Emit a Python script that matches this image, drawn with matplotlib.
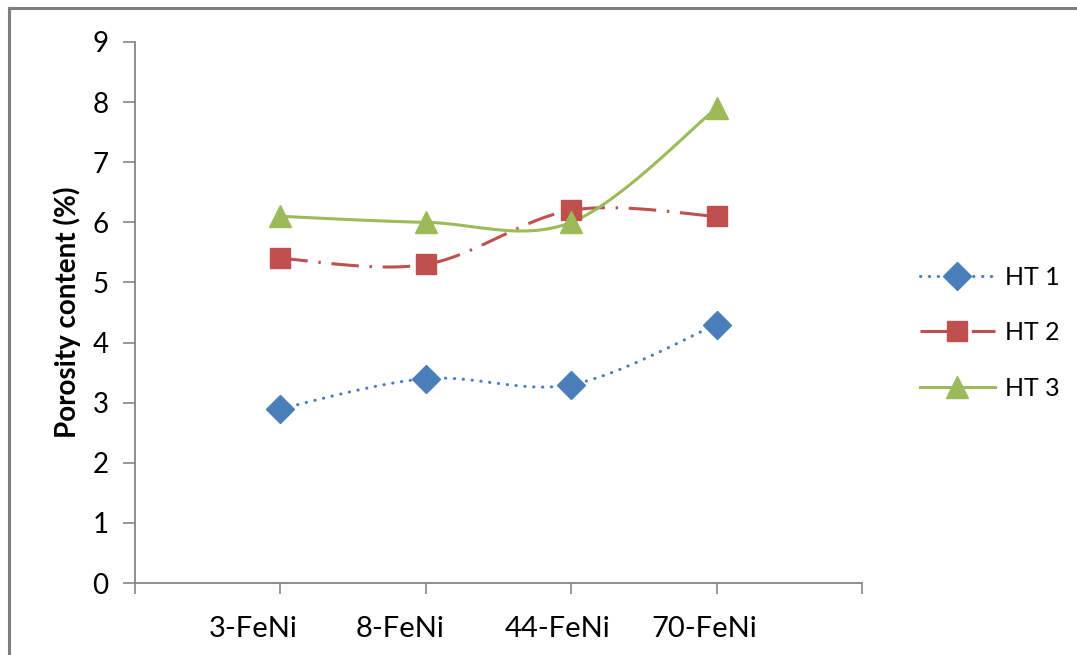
import numpy as np
import matplotlib.pyplot as plt
from matplotlib.lines import Line2D
from matplotlib.transforms import ScaledTranslation

plt.rcParams['font.family'] = ['Lato', 'DejaVu Sans']

# datos
categorias = ['3-FeNi', '8-FeNi', '44-FeNi', '70-FeNi']
ht1 = [2.9, 3.4, 3.3, 4.3]
ht2 = [5.4, 5.3, 6.2, 6.1]
ht3 = [6.1, 6.0, 6.0, 7.9]
nombres = ['HT 1', 'HT 2', 'HT 3']

gris = '#868686'


def suavizar(x, y, n=40):
    # curva tipo Excel (Catmull-Rom) entre los puntos
    x = np.asarray(x, float)
    y = np.asarray(y, float)
    px = np.concatenate([[x[0]], x, [x[-1]]])
    py = np.concatenate([[y[0]], y, [y[-1]]])
    xs, ys = [], []
    t = np.linspace(0, 1, n)
    for i in range(1, len(px) - 2):
        p0, p1, p2, p3 = px[i - 1], px[i], px[i + 1], px[i + 2]
        q0, q1, q2, q3 = py[i - 1], py[i], py[i + 1], py[i + 2]
        c1x, c1y = p1 + (p2 - p0) / 6, q1 + (q2 - q0) / 6
        c2x, c2y = p2 - (p3 - p1) / 6, q2 - (q3 - q1) / 6
        bx = (1 - t) ** 3 * p1 + 3 * (1 - t) ** 2 * t * c1x + 3 * (1 - t) * t ** 2 * c2x + t ** 3 * p2
        by = (1 - t) ** 3 * q1 + 3 * (1 - t) ** 2 * t * c1y + 3 * (1 - t) * t ** 2 * c2y + t ** 3 * q2
        xs.extend(bx)
        ys.extend(by)
    return np.array(xs), np.array(ys)


fig = plt.figure(figsize=(10.77, 6.55), dpi=100)
ax = fig.add_axes([0.1253, 0.1099, 0.8004 - 0.1253, 0.9359 - 0.1099])

x = np.arange(1, len(categorias) + 1)
series = [
    (ht1, '#4A7EBB', (0, (0.1, 2.8)), 'D', 14),
    (ht2, '#C0504D', (0, (9, 3.5, 0.8, 3.5)), 's', 14),
    (ht3, '#9BBB59', '-', '^', 16),
]

handles = []
for (datos, color, estilo, marca, tam), nombre in zip(series, nombres):
    sx, sy = suavizar(x, datos)
    cap = 'round' if marca == 'D' else 'butt'
    ax.plot(sx, sy, color=color, lw=2.2, linestyle=estilo, dash_capstyle=cap, zorder=2)
    ax.plot(x, datos, linestyle='none', marker=marca, markersize=tam, color=color, zorder=3)
    handles.append(Line2D([], [], color=color, lw=2.2, linestyle=estilo, dash_capstyle=cap,
                          marker=marca, markersize=tam))

ax.set_xlim(0, 5)
ax.set_ylim(0, 9)
ax.set_yticks(range(0, 10))
ax.set_xticks(range(0, 6))
ax.set_xticklabels([''] + categorias + [''])
ax.tick_params(axis='y', direction='out', length=9, width=1.2, color=gris, labelsize=20, pad=10)
ax.tick_params(axis='x', direction='out', length=8, width=1.2, color=gris, labelsize=21, pad=16)
for s in ['top', 'right']:
    ax.spines[s].set_visible(False)
for s in ['left', 'bottom']:
    ax.spines[s].set_color(gris)
    ax.spines[s].set_linewidth(1.3)

# en el original las etiquetas estan algo corridas a la izquierda
desplazamientos = [0, -27, -26, -14, -12, 0]
for etiqueta, dx in zip(ax.get_xticklabels(), desplazamientos):
    etiqueta.set_transform(etiqueta.get_transform() + ScaledTranslation(dx / 100, 0, fig.dpi_scale_trans))

ax.set_ylabel('Porosity content (%)', fontsize=20, fontweight='bold', labelpad=8)

fig.legend(handles, nombres, loc='center left', bbox_to_anchor=(0.854, 0.492),
           frameon=False, fontsize=18, handlelength=3.0, labelspacing=1.3,
           handletextpad=0.4, borderpad=0, borderaxespad=0)

# marco gris arriba y a la izquierda
fig.add_artist(Line2D([0.0085, 0.0085], [0, 0.988], transform=fig.transFigure, color='#7f7f7f', lw=2.2))
fig.add_artist(Line2D([0.0085, 1], [0.988, 0.988], transform=fig.transFigure, color='#7f7f7f', lw=2.2))

fig.savefig('out.png', dpi=100)
